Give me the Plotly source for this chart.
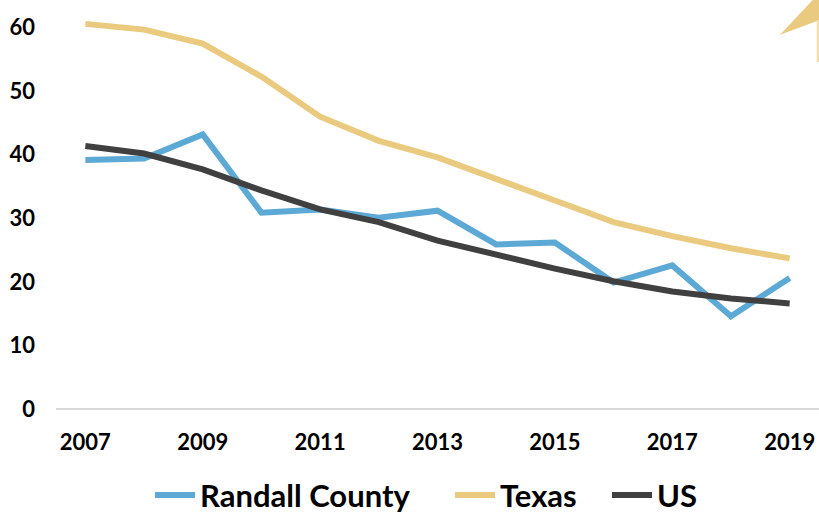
import plotly.graph_objects as go

years = list(range(2007, 2020))
randall = [39.2, 39.4, 43.2, 30.9, 31.4, 30.1, 31.2, 25.9, 26.2, 19.9, 22.6, 14.6, 20.6]
texas = [60.6, 59.7, 57.5, 52.3, 46.0, 42.2, 39.6, 36.3, 32.8, 29.4, 27.2, 25.3, 23.7]
us = [41.4, 40.2, 37.7, 34.4, 31.4, 29.4, 26.5, 24.2, 22.1, 20.1, 18.5, 17.4, 16.6]
xtick_vals = [2007, 2009, 2011, 2013, 2015, 2017, 2019]
ytick_vals = [0, 10, 20, 30, 40, 50, 60]

fig = go.Figure()
fig.add_trace(go.Scatter(x=years, y=randall, mode="lines", name="Randall County",
                         line=dict(color="#5DA9D6", width=6), legend="legend"))
fig.add_trace(go.Scatter(x=years, y=texas, mode="lines", name="Texas",
                         line=dict(color="#E9CA7E", width=6), legend="legend2"))
fig.add_trace(go.Scatter(x=years, y=us, mode="lines", name="US",
                         line=dict(color="#404040", width=6), legend="legend3"))

# decorative wedge in the top-right corner
fig.add_shape(type="path", xref="paper", yref="paper",
              path="M 0.949 0.917 L 0.992 1.003 L 1.0 1.003 L 1.0 0.953 Z",
              fillcolor="#E9CA7E", line=dict(width=0), layer="above")
fig.add_shape(type="rect", xref="paper", yref="paper",
              x0=0.997, x1=1.0, y0=0.85, y1=0.953,
              fillcolor="#F3DFAE", line=dict(width=0), layer="above")

leg_common = dict(orientation="h", xref="container", xanchor="left",
                  y=0.038, yref="container", yanchor="middle",
                  font=dict(size=31, family="Lato", weight="bold"),
                  itemwidth=40, bgcolor="rgba(0,0,0,0)")

fig.update_layout(
    width=819, height=515,
    margin=dict(l=56, r=0, t=1, b=106),
    plot_bgcolor="white", paper_bgcolor="white",
    font=dict(family="Lato", color="black"),
    showlegend=True,
    legend=dict(x=150 / 819, **leg_common),
    legend2=dict(x=450 / 819, **leg_common),
    legend3=dict(x=607 / 819, **leg_common),
    xaxis=dict(range=[2006.5, 2019.5], tickvals=xtick_vals, showgrid=False,
               zeroline=False, showline=False, ticks="", automargin=False,
               tickfont=dict(size=22, weight="bold"), ticklabelstandoff=18),
    yaxis=dict(range=[0, 64.2], tickvals=ytick_vals, showgrid=False,
               zeroline=True, zerolinecolor="#D9D9D9", zerolinewidth=2,
               showline=False, ticks="", automargin=False,
               tickfont=dict(size=22, weight="bold"), ticklabelstandoff=20),
)

fig.write_html("out.html", config={"displayModeBar": False},
               post_script="document.body.style.margin='0';")
